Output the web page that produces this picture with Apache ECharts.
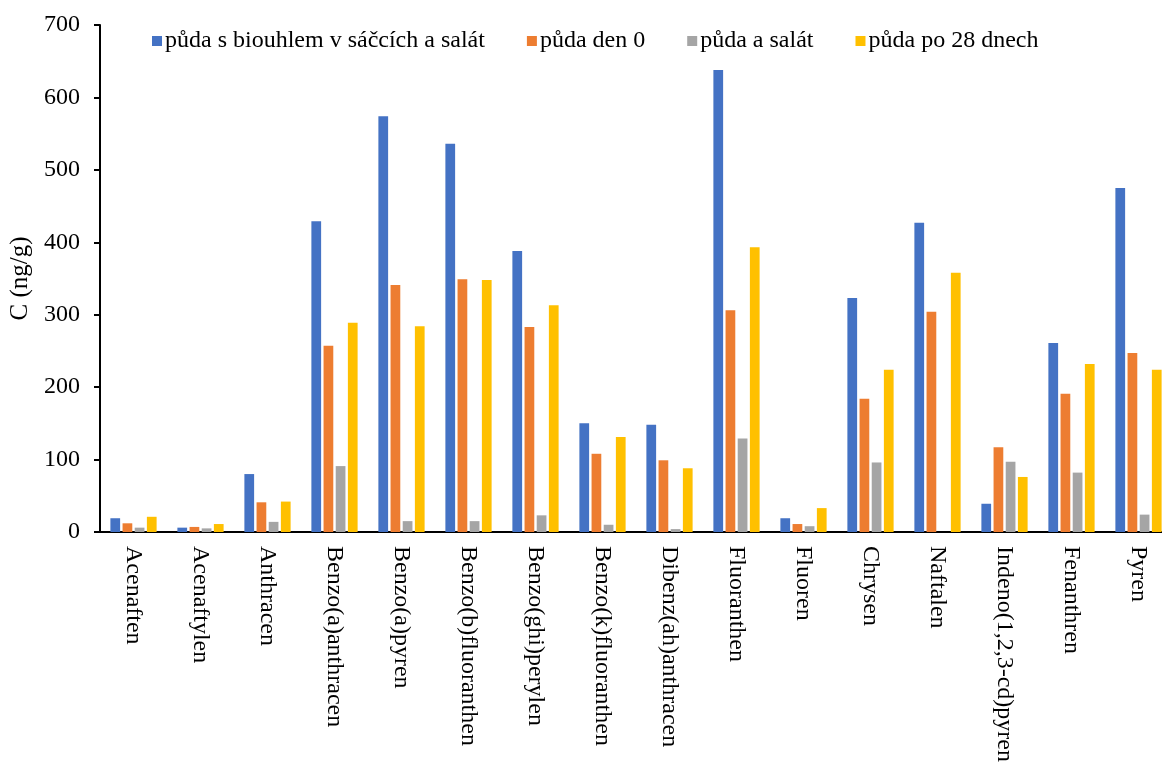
<!DOCTYPE html>
<html>
<head>
<meta charset="utf-8">
<script src="https://cdn.jsdelivr.net/npm/echarts@6/dist/echarts.min.js"></script>
<style>html,body{margin:0;padding:0;background:#fff;}#c{width:1162px;height:763px;}</style>
</head>
<body>
<div id="c"></div>
<script>
var categories = ['Acenaften','Acenaftylen','Anthracen','Benzo(a)anthracen','Benzo(a)pyren','Benzo(b)fluoranthen','Benzo(ghi)perylen','Benzo(k)fluoranthen','Dibenz(ah)anthracen','Fluoranthen','Fluoren','Chrysen','Naftalen','Indeno(1,2,3-cd)pyren','Fenanthren','Pyren'];
var seriesNames = ['půda s biouhlem v sáčcích a salát','půda den 0','půda a salát','půda po 28 dnech'];
var biouhlemSalat = [19, 6, 80, 429, 574, 536, 388, 150, 148, 638, 19, 323, 427, 39, 261, 475];
var den0 = [12, 7, 41, 257, 341, 349, 283, 108, 99, 306, 11, 184, 304, 117, 191, 247];
var pudaSalat = [6, 5, 14, 91, 15, 15, 23, 10, 4, 129, 8, 96, 0, 97, 82, 24];
var po28 = [21, 11, 42, 289, 284, 348, 313, 131, 88, 393, 33, 224, 358, 76, 232, 224];
var yTicks = [0, 100, 200, 300, 400, 500, 600, 700];
var colors = ['#4472C4', '#ED7D31', '#A5A5A5', '#FFC000'];

var font = 'Liberation Serif, Times New Roman, serif';
var data = [biouhlemSalat, den0, pudaSalat, po28];
var chart = echarts.init(document.getElementById('c'));
chart.setOption({
  animation: false,
  color: colors,
  textStyle: {fontFamily: font, color: '#000'},
  legend: {
    top: 24, left: 147,
    itemWidth: 10, itemHeight: 10, itemGap: 42,
    icon: 'rect',
    textStyle: {fontFamily: font, fontSize: 24, color: '#000', padding: [0, 0, 0, -2]},
    data: seriesNames
  },
  grid: {left: 100, width: 1072, top: 25, bottom: 231, containLabel: false, outerBoundsMode: 'none'},
  xAxis: {
    type: 'category',
    data: categories,
    axisLine: {lineStyle: {color: '#000', width: 2}},
    axisTick: {show: false},
    axisLabel: {rotate: -90, fontFamily: font, fontSize: 24, color: '#000', margin: 14, interval: 0, padding: [8, 0, 0, 0]}
  },
  yAxis: {
    type: 'value',
    min: yTicks[0], max: yTicks[yTicks.length - 1], interval: 100,
    name: 'C (ng/g)',
    nameLocation: 'middle',
    nameGap: 64,
    nameTextStyle: {fontFamily: font, fontSize: 25, color: '#000'},
    axisLine: {show: true, lineStyle: {color: '#000', width: 2}},
    axisTick: {show: true, inside: false, length: 6, lineStyle: {color: '#000', width: 2}},
    axisLabel: {fontFamily: font, fontSize: 24, color: '#000', margin: 20},
    splitLine: {show: false}
  },
  series: seriesNames.map(function (n, i) {
    return {
      name: n, type: 'bar', data: data[i],
      barGap: '25%', barCategoryGap: '31%'
    };
  })
});
</script>
</body>
</html>
